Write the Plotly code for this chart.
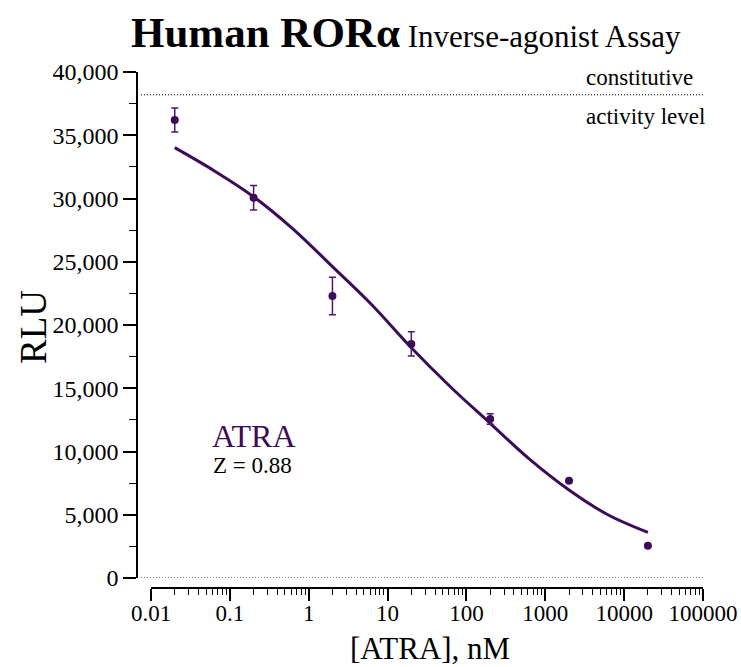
import plotly.graph_objects as go

# ---- data ----
conc_nM = [0.02, 0.2, 2, 20, 200, 2000, 20000]
rlu_mean = [36200, 30060, 22290, 18500, 12570, 7690, 2550]
rlu_err = [950, 975, 1480, 960, 420, 0, 0]

curve_x = [0.02, 0.063, 0.2, 0.63, 2, 6.3, 20, 63, 200, 630, 2000, 6300, 20000]
curve_y = [34020, 32200, 30140, 27600, 24610, 21600, 18200, 15100, 12230, 9400, 6960, 4980, 3610]

x_tickvals = [0.01, 0.1, 1, 10, 100, 1000, 10000, 100000]
x_ticktext = ["0.01", "0.1", "1", "10", "100", "1000", "10000", "100000"]
y_tickvals = [0, 5000, 10000, 15000, 20000, 25000, 30000, 35000, 40000]
y_ticktext = ["0", "5,000", "10,000", "15,000", "20,000", "25,000", "30,000", "35,000", "40,000"]
constitutive_level = 38200

W, H = 741, 667
PURPLE = "#3d0c59"
FONT = "Liberation Serif"

def px(x):
    return x / W

def py(y):
    return (H - y) / H

fig = go.Figure()
fig.add_trace(go.Scatter(
    x=curve_x, y=curve_y, mode="lines",
    line=dict(color=PURPLE, width=3, shape="spline", smoothing=1.0),
    hoverinfo="skip", showlegend=False,
))
fig.add_trace(go.Scatter(
    x=conc_nM, y=rlu_mean, mode="markers",
    marker=dict(color=PURPLE, size=8),
    error_y=dict(type="data", array=rlu_err, visible=True, color="#4a1a6a", thickness=1.5, width=3.5),
    showlegend=False,
))

fig.update_layout(
    width=W, height=H,
    margin=dict(l=0, r=0, t=0, b=0),
    paper_bgcolor="white", plot_bgcolor="white",
    template="none",
    font=dict(family=FONT, color="black", size=22),
    xaxis=dict(
        type="log", range=[-2, 5], domain=[px(151), px(703)],
        anchor="free", position=py(588),
        showline=True, linecolor="black", linewidth=1.5,
        ticks="outside", ticklen=12, tickwidth=1.5, tickcolor="black",
        tickvals=x_tickvals, ticktext=x_ticktext,
        tickfont=dict(size=23, family=FONT, color="black"),
        ticklabelstandoff=-7,
        minor=dict(ticks="outside", ticklen=6, tickwidth=1.2, tickcolor="black", dtick="D1", showgrid=False),
        showgrid=False, zeroline=False, automargin=False,
    ),
    yaxis=dict(
        range=[0, 40000], domain=[py(578), py(72)],
        anchor="free", position=px(137),
        showline=True, linecolor="black", linewidth=1.5,
        ticks="outside", ticklen=13, tickwidth=1.5, tickcolor="black",
        tickvals=y_tickvals, ticktext=y_ticktext,
        tickfont=dict(size=24, family=FONT, color="black"),
        minor=dict(ticks="outside", ticklen=7, tickwidth=1.2, tickcolor="black", dtick=2500, showgrid=False),
        showgrid=False, zeroline=False, automargin=False,
    ),
    shapes=[
        dict(type="line", xref="paper", yref="y", x0=px(141), x1=px(704),
             y0=constitutive_level, y1=constitutive_level,
             line=dict(color="black", width=1, dash="1px,2px")),
        dict(type="line", xref="paper", yref="y", x0=px(141), x1=px(704),
             y0=0, y1=0, line=dict(color="black", width=1, dash="1px,2px")),
    ],
    annotations=[
        dict(text="<b>Human ROR\u03b1</b><span style='font-size:31px'> Inverse-agonist Assay</span>",
             xref="paper", yref="paper", x=px(406), y=py(32), xanchor="center", yanchor="middle",
             showarrow=False, font=dict(size=43, family=FONT, color="black")),
        dict(text="RLU", xref="paper", yref="paper", x=px(33), y=py(327), textangle=-90,
             xanchor="center", yanchor="middle", showarrow=False, font=dict(size=37, family=FONT, color="black")),
        dict(text="[ATRA], nM", xref="paper", yref="paper", x=px(430), y=py(648),
             xanchor="center", yanchor="middle", showarrow=False, font=dict(size=31, family=FONT, color="black")),
        dict(text="ATRA", xref="paper", yref="paper", x=px(210), y=py(436),
             xanchor="left", yanchor="middle", showarrow=False, font=dict(size=32, family=FONT, color=PURPLE)),
        dict(text="Z = 0.88", xref="paper", yref="paper", x=px(211), y=py(466),
             xanchor="left", yanchor="middle", showarrow=False, font=dict(size=23, family=FONT, color="black")),
        dict(text="constitutive", xref="paper", yref="paper", x=px(584), y=py(78),
             xanchor="left", yanchor="middle", showarrow=False, font=dict(size=23, family=FONT, color="black")),
        dict(text="activity level", xref="paper", yref="paper", x=px(584), y=py(117),
             xanchor="left", yanchor="middle", showarrow=False, font=dict(size=23, family=FONT, color="black")),
    ],
)

# remove the default 8px body margin so the 741x667 figure fills the window exactly
fig.write_html(
    "out.html",
    config={"displayModeBar": False},
    post_script="document.body.style.margin='0';document.body.style.overflow='hidden';",
)
